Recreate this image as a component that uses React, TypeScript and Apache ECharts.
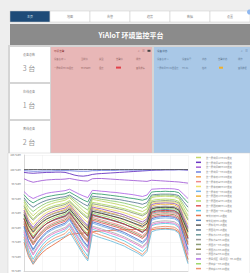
import React, { useEffect, useRef } from "react";
import * as echarts from "echarts";

const navTabs = ["主页", "地图", "告警", "趋势", "数据", "设置"];
const pageTitle = "YiAIoT 环境监控平台";
const cardLabels = ["设备总数", "在线设备", "离线设备"];
const cardValues = [3, 1, 2];
const alarmTitle = "环境告警";
const alarmHeaders = ["设备名称 ↓", "当前值", "类型", "告警值", "操作"];
const alarmRow = ["一层中间TH-01湿度", "99.8%RH", "湿度", "", "查看详情"];
const statusTitle = "设备状态";
const statusHeaders = ["设备名称 ↓", "设备编号", "状态", "告警状态", "操作"];
const statusRow = ["一层中间TH-01温湿度", "TH-01", "在线", "", "查看数据"];

const times = [
  "04-08 00:00", "04-08 02:00", "04-08 04:00", "04-08 06:00", "04-08 08:00", "04-08 10:00",
  "04-08 12:00", "04-08 14:00", "04-08 16:00", "04-08 18:00", "04-08 20:00", "04-08 22:00",
  "04-09 00:00", "04-09 02:00", "04-09 04:00", "04-09 06:00", "04-09 08:00", "04-09 10:00",
  "04-09 12:00", "04-09 14:00", "04-09 16:00", "04-09 18:00", "04-09 20:00", "04-09 22:00",
  "04-10 00:00", "04-10 02:00", "04-10 04:00", "04-10 06:00", "04-10 08:00", "04-10 10:00",
  "04-10 12:00", "04-10 14:00", "04-10 16:00", "04-10 18:00", "04-10 20:00", "04-10 22:00",
  "04-11 00:00",
];

const legendNames = [
  "第一层中间二TH-01湿度", "第一层中间三TH-02湿度", "第一层中间四TH-03湿度", "第一层中间一TH-04湿度",
  "第一层东侧二TH-05湿度", "第一层东侧三TH-06湿度", "第一层东侧四TH-07湿度", "第一层东侧一TH-08湿度",
  "第一层西侧二TH-09湿度", "第一层西侧三TH-10湿度", "第一层西侧四TH-11湿度", "第一层西侧一TH-12湿度",
  "室外南侧TH-13湿度", "室外北侧TH-14湿度", "一层东北TH-15湿度", "一层西北TH-16湿度",
  "一层东南二TH-17湿度", "一层东南三TH-18湿度", "一层西南一TH-19湿度", "一层西南二TH-20湿度",
  "一层西南三TH-21湿度", "一层吊顶区（吊顶区）TH-22湿度", "一层中庭一TH-23湿度", "一层中庭二TH-24湿度",
];
const extraNames = [
  "二层东侧一TH-25湿度", "二层东侧二TH-26湿度", "二层西侧一TH-27湿度", "二层西侧二TH-28湿度",
  "二层中间一TH-29湿度", "二层中间二TH-30湿度", "二层南侧TH-31湿度", "二层北侧TH-32湿度",
];

const s01 = [88.8, 85.8, 84, 85.5, 86.7, 87.6, 88.2, 88.7, 89, 89.4, 90.3, 88.8, 87.3, 85.8, 84.6, 89.7, 89.4, 89.1, 88.8, 88.5, 88.2, 87.8, 87.5, 87, 86.5, 86, 85.5, 86.4, 90.3, 90.6, 90.7, 90.8, 90.7, 90.6, 90, 87, 84];
const s02 = [99.0, 98.8, 98.7, 98.8, 98.9, 99.0, 99.0, 99.1, 99.1, 99.0, 98.6, 98.1, 97.8, 97.7, 97.9, 98.3, 98.5, 98.6, 98.7, 98.8, 98.9, 99.0, 99.1, 99.2, 99.3, 99.4, 99.5, 99.6, 99.7, 99.8, 99.8, 99.9, 99.9, 99.9, 100, 99.9, 99.8];
const s03 = [96.8, 96.1, 95.6, 95.9, 96.2, 96.4, 96.5, 96.6, 96.6, 96.7, 96.9, 96.6, 96.3, 96.1, 96.0, 96.8, 96.9, 96.9, 96.8, 96.7, 96.6, 96.5, 96.4, 96.3, 96.2, 96.1, 96.0, 95.9, 96.3, 96.2, 96.1, 96.0, 95.9, 95.8, 95.7, 95.5, 95.3];
const s04 = [99.6, 99.5, 99.4, 99.4, 99.5, 99.5, 99.5, 99.6, 99.6, 99.6, 99.6, 99.5, 99.4, 99.4, 99.4, 99.6, 99.6, 99.7, 99.7, 99.7, 99.7, 99.8, 99.8, 99.8, 99.8, 99.8, 99.8, 99.8, 99.9, 99.9, 99.9, 99.9, 99.9, 99.9, 99.9, 99.9, 99.9];
const s05 = [84.4, 80.4, 78, 80, 81.6, 82.8, 83.6, 84.2, 84.7, 85.2, 86.4, 84.4, 82.4, 80.4, 78.8, 85.6, 85.2, 84.8, 84.4, 84, 83.6, 83.1, 82.6, 82, 81.4, 80.7, 80, 81.2, 86.4, 86.8, 87, 87, 87, 86.8, 86, 82, 78];
const s06 = [82.2, 77.7, 75, 77.2, 79, 80.4, 81.3, 82, 82.6, 83.1, 84.5, 82.2, 79.9, 77.7, 75.9, 83.5, 83.1, 82.6, 82.2, 81.7, 81.3, 80.8, 80.2, 79.5, 78.8, 78.1, 77.2, 78.6, 84.5, 84.9, 85.1, 85.2, 85.1, 84.9, 84, 79.5, 75];
const s07 = [86.6, 83.1, 81, 82.7, 84.1, 85.2, 85.9, 86.5, 86.9, 87.3, 88.4, 86.6, 84.8, 83.1, 81.7, 87.6, 87.3, 86.9, 86.6, 86.2, 85.9, 85.5, 85.1, 84.5, 83.9, 83.4, 82.7, 83.8, 88.4, 88.7, 88.8, 88.9, 88.8, 88.7, 88, 84.5, 81];
const s08 = [80, 75, 72, 74.5, 76.5, 78, 79, 79.8, 80.4, 81, 82.5, 80, 77.5, 75, 73, 81.5, 81, 80.5, 80, 79.5, 79, 78.4, 77.8, 77, 76.2, 75.4, 74.5, 76, 82.5, 83, 83.2, 83.3, 83.2, 83, 82, 77, 72];
const s09 = [85.4, 81.4, 79, 81, 82.6, 83.8, 84.6, 85.2, 85.7, 86.2, 87.4, 85.4, 83.4, 81.4, 79.8, 86.6, 86.2, 85.8, 85.4, 85, 84.6, 84.1, 83.6, 83, 82.4, 81.7, 81, 82.2, 87.4, 87.8, 88, 88, 88, 87.8, 87, 83, 79];
const s10 = [87.8, 84.8, 83, 84.5, 85.7, 86.6, 87.2, 87.7, 88, 88.4, 89.3, 87.8, 86.3, 84.8, 83.6, 88.7, 88.4, 88.1, 87.8, 87.5, 87.2, 86.8, 86.5, 86, 85.5, 85, 84.5, 85.4, 89.3, 89.6, 89.7, 89.8, 89.7, 89.6, 89, 86, 83];
const s11 = [81.2, 76.7, 74, 76.2, 78, 79.4, 80.3, 81, 81.6, 82.1, 83.5, 81.2, 78.9, 76.7, 74.9, 82.5, 82.1, 81.6, 81.2, 80.7, 80.3, 79.8, 79.2, 78.5, 77.8, 77.1, 76.2, 77.6, 83.5, 83.9, 84.1, 84.2, 84.1, 83.9, 83, 78.5, 74];
const s12 = [77.8, 72.3, 69, 71.7, 73.9, 75.6, 76.7, 77.6, 78.2, 78.9, 80.6, 77.8, 75, 72.3, 70.1, 79.4, 78.9, 78.3, 77.8, 77.2, 76.7, 76, 75.4, 74.5, 73.6, 72.7, 71.7, 73.4, 80.6, 81.1, 81.3, 81.4, 81.3, 81.1, 80, 74.5, 69];
const s13 = [75, 70, 67.3, 69.5, 71.3, 72.6, 73.6, 74.6, 75.6, 76.7, 77.6, 77.8, 78, 78.1, 78.2, 78.5, 78.7, 78.8, 78.9, 79, 79.1, 79.2, 79.2, 79.3, 79.3, 79.3, 79.2, 79, 79.2, 79.5, 79.6, 79.7, 79.6, 79.4, 78.5, 74, 69];
const s14 = [83.2, 78.7, 76, 78.2, 80, 81.4, 82.3, 83, 83.6, 84.1, 85.5, 83.2, 80.9, 78.7, 76.9, 84.5, 84.1, 83.6, 83.2, 82.7, 82.3, 81.8, 81.2, 80.5, 79.8, 79.1, 78.2, 79.6, 85.5, 85.9, 86.1, 86.2, 86.1, 85.9, 85, 80.5, 76];
const s15 = [100, 100, 100, 100, 100, 100, 100, 100, 100, 100, 100, 100, 100, 100, 100, 100, 100, 100, 100, 100, 100, 100, 100, 100, 100, 100, 100, 100, 100, 100, 100, 100, 100, 100, 100, 100, 100];
const s16 = [90.2, 88.2, 87, 88, 88.8, 89.4, 89.8, 90.1, 90.4, 90.6, 91.2, 90.2, 89.2, 88.2, 87.4, 90.8, 90.6, 90.4, 90.2, 90, 89.8, 89.6, 89.3, 89, 88.7, 88.4, 88, 88.6, 91.2, 91.4, 91.5, 91.5, 91.5, 91.4, 91, 89, 87];
const s17 = [82.9, 78.9, 76.5, 78.5, 80.1, 81.3, 82.1, 82.7, 83.2, 83.7, 84.9, 82.9, 80.9, 78.9, 77.3, 84.1, 83.7, 83.3, 82.9, 82.5, 82.1, 81.6, 81.1, 80.5, 79.9, 79.2, 78.5, 79.7, 84.9, 85.3, 85.5, 85.5, 85.5, 85.3, 84.5, 80.5, 76.5];
const s18 = [85.1, 81.6, 79.5, 81.2, 82.6, 83.7, 84.4, 85, 85.4, 85.8, 86.9, 85.1, 83.3, 81.6, 80.2, 86.1, 85.8, 85.4, 85.1, 84.7, 84.4, 84, 83.6, 83, 82.4, 81.9, 81.2, 82.3, 86.9, 87.2, 87.3, 87.4, 87.3, 87.2, 86.5, 83, 79.5];
const s19 = [87.3, 84.3, 82.5, 84, 85.2, 86.1, 86.7, 87.2, 87.5, 87.9, 88.8, 87.3, 85.8, 84.3, 83.1, 88.2, 87.9, 87.6, 87.3, 87, 86.7, 86.3, 86, 85.5, 85, 84.5, 84, 84.9, 88.8, 89.1, 89.2, 89.3, 89.2, 89.1, 88.5, 85.5, 82.5];
const s20 = [81.7, 77.2, 74.5, 76.7, 78.5, 79.9, 80.8, 81.5, 82.1, 82.6, 84, 81.7, 79.4, 77.2, 75.4, 83, 82.6, 82.1, 81.7, 81.2, 80.8, 80.3, 79.7, 79, 78.3, 77.6, 76.7, 78.1, 84, 84.4, 84.6, 84.7, 84.6, 84.4, 83.5, 79, 74.5];
const s21 = [79, 74, 71, 73.5, 75.5, 77, 78, 78.8, 79.4, 80, 81.5, 79, 76.5, 74, 72, 80.5, 80, 79.5, 79, 78.5, 78, 77.4, 76.8, 76, 75.2, 74.4, 73.5, 75, 81.5, 82, 82.2, 82.3, 82.2, 82, 81, 76, 71];
const s22 = [92.4, 90.9, 90, 90.7, 91.3, 91.8, 92.1, 92.3, 92.5, 92.7, 93.2, 92.4, 91.6, 90.9, 90.3, 92.8, 92.7, 92.5, 92.4, 92.2, 92.1, 91.9, 91.7, 91.5, 91.3, 91, 90.7, 91.2, 93.2, 93.3, 93.4, 93.4, 93.4, 93.3, 93, 91.5, 90];
const s23 = [83.8, 79.5, 77, 79.1, 80.8, 82.1, 82.9, 83.6, 84.1, 84.6, 85.9, 83.8, 81.7, 79.5, 77.8, 85.1, 84.6, 84.2, 83.8, 83.4, 82.9, 82.4, 81.9, 81.2, 80.6, 79.9, 79.1, 80.4, 85.9, 86.4, 86.5, 86.6, 86.5, 86.4, 85.5, 81.2, 77];
const s24 = [76.8, 71.3, 68, 70.7, 72.9, 74.6, 75.7, 76.6, 77.2, 77.9, 79.6, 76.8, 74, 71.3, 69.1, 78.4, 77.9, 77.3, 76.8, 76.2, 75.7, 75, 74.4, 73.5, 72.6, 71.7, 70.7, 72.4, 79.6, 80.1, 80.3, 80.4, 80.3, 80.1, 79, 73.5, 68];
const e01 = [91.3, 89.5, 88.5, 89.4, 90.1, 90.6, 90.9, 91.2, 91.4, 91.6, 92.2, 91.3, 90.4, 89.5, 88.8, 91.8, 91.6, 91.5, 91.3, 91.1, 90.9, 90.7, 90.5, 90.2, 90, 89.7, 89.4, 89.9, 92.2, 92.4, 92.4, 92.5, 92.4, 92.4, 92, 90.2, 88.5];
const e02 = [86, 82.2, 80, 81.9, 83.4, 84.5, 85.2, 85.8, 86.3, 86.7, 87.9, 86, 84.1, 82.2, 80.7, 87.1, 86.7, 86.4, 86, 85.6, 85.2, 84.8, 84.3, 83.7, 83.1, 82.5, 81.9, 83, 87.9, 88.3, 88.4, 88.5, 88.4, 88.3, 87.5, 83.7, 80];
const e03 = [80.5, 75.5, 72.5, 75, 77, 78.5, 79.5, 80.3, 80.9, 81.5, 83, 80.5, 78, 75.5, 73.5, 82, 81.5, 81, 80.5, 80, 79.5, 78.9, 78.3, 77.5, 76.7, 75.9, 75, 76.5, 83, 83.5, 83.7, 83.8, 83.7, 83.5, 82.5, 77.5, 72.5];
const e04 = [83.1, 78.8, 76.3, 78.4, 80.1, 81.4, 82.2, 82.9, 83.4, 83.9, 85.2, 83.1, 81, 78.8, 77.1, 84.4, 83.9, 83.5, 83.1, 82.7, 82.2, 81.7, 81.2, 80.5, 79.9, 79.2, 78.4, 79.7, 85.2, 85.7, 85.8, 85.9, 85.8, 85.7, 84.8, 80.5, 76.3];
const e05 = [84.5, 80.7, 78.5, 80.4, 81.9, 83, 83.7, 84.3, 84.8, 85.2, 86.4, 84.5, 82.6, 80.7, 79.2, 85.6, 85.2, 84.9, 84.5, 84.1, 83.7, 83.3, 82.8, 82.2, 81.6, 81, 80.4, 81.5, 86.4, 86.8, 86.9, 87, 86.9, 86.8, 86, 82.2, 78.5];
const e06 = [75.9, 70.6, 67.5, 70.1, 72.2, 73.8, 74.8, 75.7, 76.3, 76.9, 78.5, 75.9, 73.3, 70.6, 68.5, 77.5, 76.9, 76.4, 75.9, 75.4, 74.8, 74.2, 73.6, 72.7, 71.9, 71.1, 70.1, 71.7, 78.5, 79.1, 79.3, 79.4, 79.3, 79.1, 78, 72.7, 67.5];
const e07 = [89.5, 87, 85.5, 86.7, 87.7, 88.5, 89, 89.4, 89.7, 90, 90.8, 89.5, 88.2, 87, 86, 90.2, 90, 89.7, 89.5, 89.2, 89, 88.7, 88.4, 88, 87.6, 87.2, 86.7, 87.5, 90.8, 91, 91.1, 91.2, 91.1, 91, 90.5, 88, 85.5];
const e08 = [78.5, 73.5, 70.5, 73, 75, 76.5, 77.5, 78.3, 78.9, 79.5, 81, 78.5, 76, 73.5, 71.5, 80, 79.5, 79, 78.5, 78, 77.5, 76.9, 76.3, 75.5, 74.7, 73.9, 73, 74.5, 81, 81.5, 81.7, 81.8, 81.7, 81.5, 80.5, 75.5, 70.5];

const legendValues = [s01, s02, s03, s04, s05, s06, s07, s08, s09, s10, s11, s12, s13, s14, s15, s16, s17, s18, s19, s20, s21, s22, s23, s24];
const extraValues = [e01, e02, e03, e04, e05, e06, e07, e08];

const legendColors = [
  "#c5d66c", "#6a35c2", "#a45fd6", "#6f80e0", "#f3a55c", "#ef8a8a", "#efe06a", "#74b6ec",
  "#efb43e", "#b5dc6a", "#e05a5a", "#62c9e3", "#e8734a", "#4d7fb8", "#5c5c5c", "#607d95",
  "#6f9a9a", "#9a9a9a", "#8d9e78", "#94905c", "#b0b0b0", "#b36ee6", "#9fd86c", "#ee9470",
];
const extraColors = ["#3ba272", "#9a60b4", "#5470c6", "#c23531", "#2f4554", "#73c0de", "#91cc75", "#ea7ccc"];

const FONT = "'Noto Sans CJK SC', 'Noto Sans', sans-serif";

function txt(x: number, y: number, text: string, size: number, fill: string, align = "left", weight: any = "normal") {
  return {
    type: "text",
    x,
    y,
    z: -1,
    silent: true,
    style: {
      text,
      fontSize: size,
      fontFamily: FONT,
      fontWeight: weight,
      fill,
      textAlign: align,
      textVerticalAlign: "middle",
    },
  };
}
function box(x: number, y: number, w: number, h: number, fill: string, stroke?: string) {
  return {
    type: "rect",
    z: -2,
    silent: true,
    shape: { x, y, width: w, height: h },
    style: stroke ? { fill, stroke, lineWidth: 0.5 } : { fill },
  };
}

export default function App() {
  const ref = useRef<HTMLDivElement>(null);
  useEffect(() => {
    const chart = echarts.init(ref.current!, null, { renderer: "svg" });
    const g: any[] = [];
    g.push(box(8, 45, 242, 108, "#d5d5d5"));
    navTabs.forEach((t, i) => {
      g.push(box(10 + 40 * i, 11, 40, 11, i === 0 ? "#1e4b78" : "#ffffff", "#c8c8c8"));
      g.push(txt(30 + 40 * i, 16.5, t, 3, i === 0 ? "#d8e2ee" : "#8a8a8a", "center"));
    });
    g.push({ type: "circle", z: -1, silent: true, shape: { cx: 249.5, cy: 12, r: 2.5 }, style: { fill: "#8fb8f0" } });
    g.push(box(10, 24, 240, 21, "#8b8b8b"));
    g.push(txt(131, 34.5, pageTitle, 7, "#ffffff", "center", "bold"));
    const cardY = [47, 84, 121];
    cardLabels.forEach((l, i) => {
      g.push(box(10, cardY[i], 40, i === 2 ? 32 : 35, "#ffffff"));
      g.push(txt(29, cardY[i] + 8, l, 3, "#8a8a8a", "center"));
      g.push(txt(29, cardY[i] + 20.5, `${cardValues[i]} 台`, 7, "#9a9a9a", "center"));
    });
    // alarm panel
    g.push(box(51, 47, 101, 106, "#e8b7b7"));
    g.push(txt(54, 50.8, alarmTitle, 2.6, "#9a4a4a"));
    const aX = [54, 81, 99, 116, 136];
    alarmHeaders.forEach((h, i) => g.push(txt(aX[i], 58.7, h, 2.3, "#9a6e6e")));
    alarmRow.forEach((h, i) => { if (h) g.push(txt(aX[i], 67.6, h, 2.2, "#8a5a5a")); });
    g.push(box(116, 66.6, 5, 2, "#e2404a"));
    g.push(txt(138.5, 50.8, "⌕", 3, "#8a5a5a", "center"));
    g.push(txt(143.5, 50.8, "≡", 3, "#8a5a5a", "center"));
    g.push(box(147.5, 49.8, 3, 2, "#444444"));
    // status panel
    g.push(box(154, 47, 96, 106, "#a9c8e7"));
    g.push(txt(157, 51, statusTitle, 2.6, "#4a6482"));
    const sX = [157, 182, 202, 218, 238];
    statusHeaders.forEach((h, i) => g.push(txt(sX[i], 59, h, 2.3, "#667f99")));
    statusRow.forEach((h, i) => { if (h) g.push(txt(sX[i], 67.7, h, 2.2, "#5a7390")); });
    g.push(box(219, 66.7, 4, 2, "#f0b02a"));
    g.push(txt(241.5, 51, "⌕", 3, "#5a7390", "center"));
    g.push(txt(246.5, 51, "≡", 3, "#5a7390", "center"));
    // chart panel
    g.push(box(8, 153, 242, 121, "#ffffff", "#cfcfcf"));

    const allNames = [...legendNames, ...extraNames];
    const allValues = [...legendValues, ...extraValues];
    const allColors = [...legendColors, ...extraColors];
    const series = allNames.map((n, i) => ({
      name: n,
      type: "line",
      data: allValues[i],
      showSymbol: false,
      symbol: "none",
      color: allColors[i],
      lineStyle: { width: 0.9, color: allColors[i] },
      emphasis: { disabled: true },
      z: 3,
    }));

    chart.setOption({
      animation: false,
      backgroundColor: "#eeeeee",
      textStyle: { fontFamily: FONT },
      graphic: { elements: g },
      grid: { left: 24, right: 62, top: 155, bottom: 2, containLabel: false, outerBoundsMode: "none" },
      legend: {
        data: legendNames,
        orient: "vertical",
        left: 196,
        top: 156,
        width: 54,
        height: 200,
        padding: 0,
        itemWidth: 5,
        itemHeight: 1.5,
        itemGap: 1.83,
        icon: "rect",
        textStyle: { fontSize: 2.4, lineHeight: 3, color: "#777777", fontFamily: FONT },
        selectedMode: false,
      },
      xAxis: {
        type: "category",
        data: times,
        boundaryGap: false,
        axisLine: { lineStyle: { color: "#bbbbbb", width: 0.5 } },
        axisTick: { show: false },
        axisLabel: { show: false },
        splitLine: { show: true, interval: 3, lineStyle: { color: "#ececec", width: 0.5 } },
      },
      yAxis: {
        type: "value",
        min: 65,
        max: 105,
        interval: 5,
        axisLine: { show: true, lineStyle: { color: "#bbbbbb", width: 0.5 } },
        axisTick: { show: false },
        axisLabel: { fontSize: 2.6, color: "#777777", margin: 3, formatter: "{value} %RH" },
        splitLine: { show: true, lineStyle: { color: "#ececec", width: 0.5 } },
      },
      series,
    });
    return () => chart.dispose();
  }, []);
  return <div ref={ref} style={{ position: "absolute", left: 0, top: 0, width: 250, height: 273 }} />;
}
